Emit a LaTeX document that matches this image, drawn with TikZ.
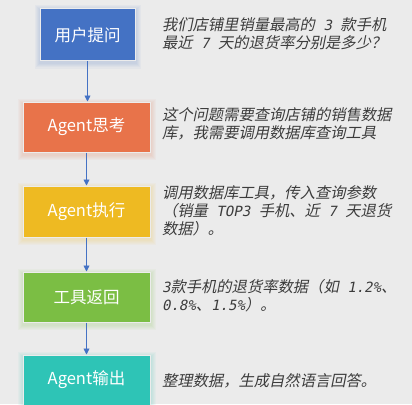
\documentclass[tikz,border=0pt]{standalone}
\usepackage{fontspec}
\usetikzlibrary{arrows.meta}
\newfontfamily\cjk{Noto Sans CJK SC}
\newfontfamily\monoit[Scale=0.92]{DejaVu Sans Mono}
\newcommand{\nm}[1]{{\monoit #1}}
\definecolor{bgc}{HTML}{EBEBEB}
\definecolor{cblue}{HTML}{4472C4}
\definecolor{corange}{HTML}{E8734A}
\definecolor{cyellow}{HTML}{EEBA22}
\definecolor{cgreen}{HTML}{7BBE44}
\definecolor{cteal}{HTML}{2EC4B6}
\definecolor{txt}{HTML}{3C3C3C}
\definecolor{arrc}{HTML}{4472C4}
\pgfdeclarelayer{bglayer}
\pgfdeclarelayer{glowlayer}
\pgfsetlayers{bglayer,glowlayer,main}
\tikzset{
  stepbox/.style={rectangle, draw=white!85!gray, line width=1pt, text=white,
    font=\cjk\fontsize{16.5}{20}\selectfont, inner sep=0pt},
  desc/.style={anchor=west, inner sep=0pt, text=txt,
    font=\cjk\fontsize{15.3}{18}\selectfont, xslant=0.2, transform shape},
  arr/.style={draw=arrc, line width=0.9pt, -{Triangle[width=6pt,length=6pt]}},
}
\newcommand{\glow}[2]{%
  \foreach \i in {1,...,5}{%
    \fill[#2, opacity=0.045] ([shift={(-\i,-\i+2)}]#1.north west) rectangle ([shift={(\i,\i+2)}]#1.south east);
  }%
}
\begin{document}
\begin{tikzpicture}[x=1pt,y=-1pt]
\begin{pgfonlayer}{bglayer}
\fill[bgc] (0,0) rectangle (412,404);
\end{pgfonlayer}
\useasboundingbox (0,0) rectangle (412,404);

\node[stepbox, fill=cblue, minimum width=95pt, minimum height=52pt] (b1) at (87.5,35) {用户提问};
\node[stepbox, fill=corange, minimum width=127pt, minimum height=50pt] (b2) at (86.5,127) {Agent思考};
\node[stepbox, fill=cyellow, minimum width=127pt, minimum height=51pt] (b3) at (86.5,211.5) {Agent执行};
\node[stepbox, fill=cgreen, minimum width=127pt, minimum height=50pt] (b4) at (86.5,297) {工具返回};
\node[stepbox, fill=cteal, minimum width=127pt, minimum height=50pt] (b5) at (86.5,380) {Agent输出};

\begin{pgfonlayer}{glowlayer}
\glow{b1}{cblue}
\glow{b2}{corange}
\glow{b3}{cyellow}
\glow{b4}{cgreen}
\glow{b5}{cteal}
\end{pgfonlayer}

\node[desc] (d1a) at (163,25) {我们店铺里销量最高的\nm{~3~}款手机};
\node[desc] (d1b) at (163,43) {最近\nm{~7~}天的退货率分别是多少？};
\node[desc] (d2a) at (163,115) {这个问题需要查询店铺的销售数据};
\node[desc] (d2b) at (163,133) {库，我需要调用数据库查询工具};
\node[desc] (d3a) at (163,193) {调用数据库工具，传入查询参数};
\node[desc] (d3b) at (163,211) {（销量\nm{~TOP3~}手机、近\nm{~7~}天退货};
\node[desc] (d3c) at (163,229) {数据）。};
\node[desc] (d4a) at (163,287) {\nm{3}款手机的退货率数据（如\nm{~1.2\%}、};
\node[desc] (d4b) at (163,305) {\nm{0.8\%}、\nm{1.5\%}）。};
\node[desc] (d5) at (163,381) {整理数据，生成自然语言回答。};

\draw[arr] (b1.south) -- (b1.south |- b2.north);
\draw[arr] (b2.south) -- (b3.north);
\draw[arr] (b3.south) -- (b4.north);
\draw[arr] (b4.south) -- (b5.north);
\end{tikzpicture}
\end{document}
